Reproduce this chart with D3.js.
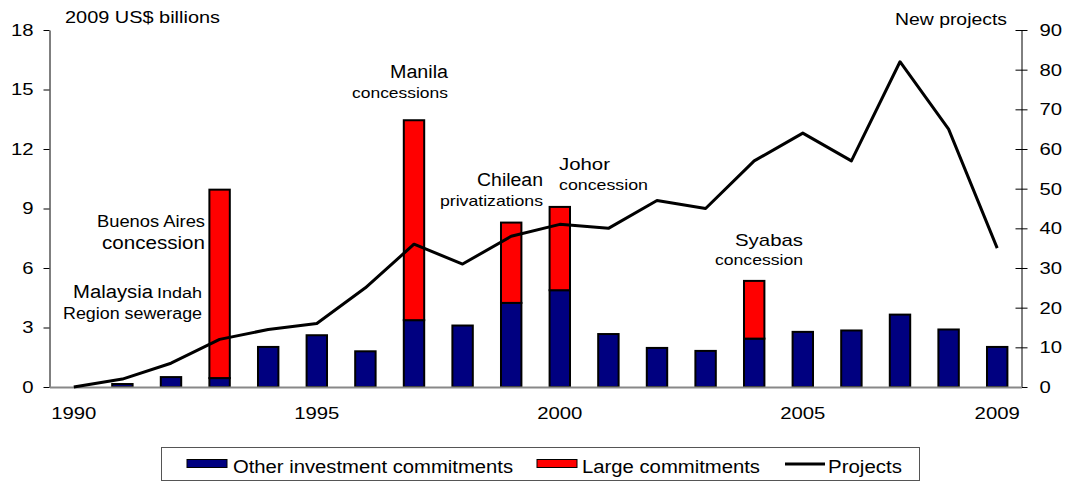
<!DOCTYPE html>
<html>
<head>
<meta charset="utf-8">
<script src="https://cdn.jsdelivr.net/npm/d3@7"></script>
<style>
  body { margin: 0; background: #fff; }
  text { font-family: "Liberation Sans", Arial, sans-serif; fill: #000; }
</style>
</head>
<body>
<div id="chart"></div>
<script>
// Data
const years = ["1990","1991","1992","1993","1994","1995","1996","1997","1998","1999",
               "2000","2001","2002","2003","2004","2005","2006","2007","2008","2009"];
const otherCommit = [0, 0.15, 0.5, 0.45, 2.02, 2.61, 1.8, 3.37, 3.1, 4.24,
                     4.88, 2.67, 1.97, 1.82, 2.44, 2.78, 2.85, 3.65, 2.9, 2.02];
const largeCommit = [0, 0, 0, 9.5, 0, 0, 0, 10.08, 0, 4.05,
                     4.2, 0, 0, 0, 2.91, 0, 0, 0, 0, 0];
const projects = [0, 2, 6, 12, 14.5, 16, 25, 36, 31, 38,
                  41, 40, 47, 45, 57, 64, 57, 82, 65, 35];
const leftTicks = [0, 3, 6, 9, 12, 15, 18];
const rightTicks = [0, 10, 20, 30, 40, 50, 60, 70, 80, 90];
const xTickLabels = ["1990", "1995", "2000", "2005", "2009"];

// Annotation labels
const notes = [
    { t: "Buenos Aires", x: 97, y: 227, s: 16, w: 108 },
    { t: "concession", x: 102, y: 249, s: 18, w: 103 },
    { t: "Malaysia", x: 73, y: 298, s: 18, w: 80 },
    { t: "Indah", x: 157, y: 298, s: 14, w: 45 },
    { t: "Region sewerage", x: 63, y: 319, s: 16, w: 139 },
    { t: "Manila", x: 390, y: 78, s: 18, w: 58 },
    { t: "concessions", x: 352, y: 98, s: 15, w: 96 },
    { t: "Chilean", x: 477, y: 186, s: 18, w: 66 },
    { t: "privatizations", x: 440, y: 206, s: 15, w: 103 },
    { t: "Johor", x: 559, y: 170, s: 17, w: 51 },
    { t: "concession", x: 559, y: 190, s: 15, w: 89 },
    { t: "Syabas", x: 735, y: 246, s: 17, w: 68 },
    { t: "concession", x: 715, y: 265, s: 15, w: 88 }
];

const W = 1069, H = 482;
const plotL = 49.5, plotR = 1021.5, plotT = 30, plotB = 387;
const digitW = 11.3; // rendered digit width in the reference (text is slightly stretched)

const svg = d3.select("#chart").append("svg")
    .attr("width", W)
    .attr("height", H);

const x = d3.scaleBand().domain(years).range([plotL, plotR]).padding(0);
const y = d3.scaleLinear().domain([0, 18]).range([plotB, plotT]);
const y2 = d3.scaleLinear().domain([0, 90]).range([plotB, plotT]);

const data = years.map((yr, i) => ({ year: yr, other: otherCommit[i], large: largeCommit[i], proj: projects[i] }));
const bw = x.bandwidth() * 0.42;
const bx = d => x(d.year) + (x.bandwidth() - bw) / 2;

// Bars: other investment (bottom) and large commitments (stacked)
svg.selectAll(".bar-other")
    .data(data.filter(d => d.other > 0))
    .enter().append("rect")
    .attr("class", "bar-other")
    .attr("x", bx)
    .attr("width", bw)
    .attr("y", d => y(d.other))
    .attr("height", d => y(0) - y(d.other))
    .attr("fill", "#000080")
    .attr("stroke", "#000")
    .attr("stroke-width", 2);

svg.selectAll(".bar-large")
    .data(data.filter(d => d.large > 0))
    .enter().append("rect")
    .attr("class", "bar-large")
    .attr("x", bx)
    .attr("width", bw)
    .attr("y", d => y(d.other + d.large))
    .attr("height", d => y(d.other) - y(d.other + d.large))
    .attr("fill", "#ff0000")
    .attr("stroke", "#000")
    .attr("stroke-width", 2);

function styleTicks(g) {
    g.selectAll("text")
        .attr("font-family", null)
        .style("font-size", "17px")
        .attr("textLength", function() { return this.textContent.length * digitW; })
        .attr("lengthAdjust", "spacingAndGlyphs");
}

// Left axis
const gl = svg.append("g")
    .attr("transform", "translate(" + plotL + ",0)")
    .call(d3.axisLeft(y).tickValues(leftTicks).tickSizeInner(6).tickSizeOuter(0).tickPadding(10));
styleTicks(gl);

// Right axis
const gr = svg.append("g")
    .attr("transform", "translate(" + plotR + ",0)")
    .call(d3.axisRight(y2).tickValues(rightTicks).tickSizeInner(6).tickSizeOuter(0).tickPadding(12));
gr.selectAll(".tick line").attr("x1", -6);
styleTicks(gr);

// Category axis
const gx = svg.append("g")
    .attr("transform", "translate(0," + plotB + ")")
    .call(d3.axisBottom(x).tickValues(xTickLabels).tickSize(0).tickPadding(20));
gx.select(".domain").attr("stroke", "#888").attr("stroke-width", 2);
styleTicks(gx);

// Projects line
svg.append("path")
    .datum(data)
    .attr("fill", "none")
    .attr("stroke", "#000")
    .attr("stroke-width", 3)
    .attr("stroke-linejoin", "round")
    .attr("d", d3.line()
        .x(d => x(d.year) + x.bandwidth() / 2)
        .y(d => y2(d.proj)));

// Axis titles
svg.append("text")
    .attr("x", 65).attr("y", 23)
    .attr("textLength", 155).attr("lengthAdjust", "spacingAndGlyphs")
    .style("font-size", "16px")
    .text("2009 US$ billions");
svg.append("text")
    .attr("x", 895).attr("y", 25)
    .attr("textLength", 112).attr("lengthAdjust", "spacingAndGlyphs")
    .style("font-size", "16px")
    .text("New projects");

// Annotations
svg.selectAll(".note")
    .data(notes)
    .enter().append("text")
    .attr("class", "note")
    .attr("x", d => d.x)
    .attr("y", d => d.y)
    .attr("textLength", d => d.w)
    .attr("lengthAdjust", "spacingAndGlyphs")
    .style("font-size", d => d.s + "px")
    .text(d => d.t);

// Legend
const lg = svg.append("g");
lg.append("rect")
    .attr("x", 161.5).attr("y", 447.5)
    .attr("width", 758).attr("height", 33)
    .attr("fill", "#fff")
    .attr("stroke", "#555");

lg.append("rect")
    .attr("x", 187).attr("y", 459.5).attr("width", 40).attr("height", 8)
    .attr("fill", "#000080").attr("stroke", "#000");
lg.append("text")
    .attr("x", 233).attr("y", 473)
    .attr("textLength", 280).attr("lengthAdjust", "spacingAndGlyphs")
    .style("font-size", "18px")
    .text("Other investment commitments");

lg.append("rect")
    .attr("x", 537).attr("y", 459.5).attr("width", 40).attr("height", 8)
    .attr("fill", "#ff0000").attr("stroke", "#000");
lg.append("text")
    .attr("x", 582).attr("y", 473)
    .attr("textLength", 178).attr("lengthAdjust", "spacingAndGlyphs")
    .style("font-size", "18px")
    .text("Large commitments");

lg.append("line")
    .attr("x1", 785).attr("x2", 825).attr("y1", 464).attr("y2", 464)
    .attr("stroke", "#000").attr("stroke-width", 3);
lg.append("text")
    .attr("x", 828).attr("y", 473)
    .attr("textLength", 74).attr("lengthAdjust", "spacingAndGlyphs")
    .style("font-size", "18px")
    .text("Projects");
</script>
</body>
</html>
